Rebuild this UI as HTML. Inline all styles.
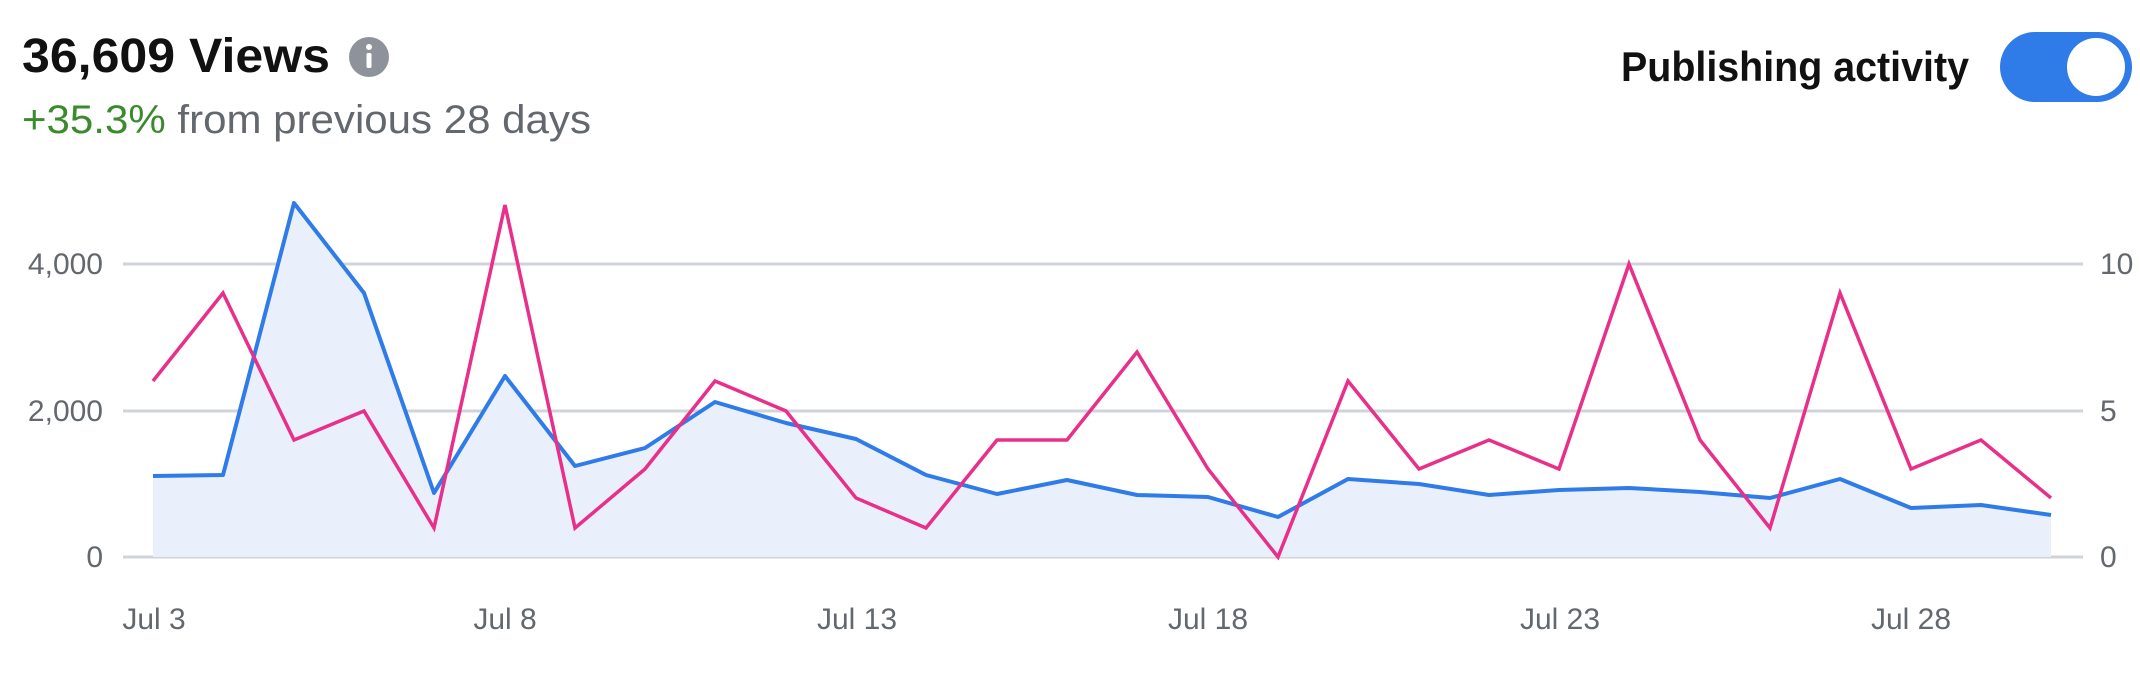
<!DOCTYPE html>
<html><head><meta charset="utf-8"><style>
html,body{margin:0;padding:0;background:#fff;}
svg{display:block;}
text{font-family:"Liberation Sans",sans-serif;}
</style></head><body>
<svg width="2140" height="677" viewBox="0 0 2140 677" xmlns="http://www.w3.org/2000/svg">
<text x="22" y="72" font-size="48" font-weight="bold" fill="#111" textLength="308" lengthAdjust="spacingAndGlyphs">36,609 Views</text>
<circle cx="369" cy="57" r="20" fill="#8e939b"/>
<circle cx="369" cy="47" r="3" fill="#fff"/>
<rect x="366.5" y="53" width="5" height="15" rx="1.5" fill="#fff"/>
<text x="22" y="133" font-size="40" textLength="569" lengthAdjust="spacingAndGlyphs"><tspan fill="#3b8a2e">+35.3%</tspan><tspan fill="#63676e"> from previous 28 days</tspan></text>
<text x="1621" y="81" font-size="42" font-weight="bold" fill="#111" textLength="348" lengthAdjust="spacingAndGlyphs">Publishing activity</text>
<rect x="2000" y="32" width="132" height="70" rx="35" fill="#2f7ce8"/>
<circle cx="2096" cy="67" r="29" fill="#fff"/>
<g stroke="#d0d3da" stroke-width="3">
<line x1="123" y1="264" x2="2083" y2="264"/>
<line x1="123" y1="411" x2="2083" y2="411"/>
<line x1="123" y1="557" x2="2083" y2="557"/>
</g>
<g font-size="30" fill="#63676e" text-anchor="end">
<text x="103" y="274">4,000</text>
<text x="103" y="421">2,000</text>
<text x="103" y="567">0</text>
</g>
<g font-size="30" fill="#63676e">
<text x="2100" y="274">10</text>
<text x="2100" y="421">5</text>
<text x="2100" y="567">0</text>
</g>
<g font-size="30" fill="#63676e" text-anchor="middle">
<text x="154" y="629">Jul 3</text>
<text x="505" y="629">Jul 8</text>
<text x="857" y="629">Jul 13</text>
<text x="1208" y="629">Jul 18</text>
<text x="1560" y="629">Jul 23</text>
<text x="1911" y="629">Jul 28</text>
</g>
<polygon fill="#e9f0fc" points="153,557 153,476 223,475 294,203 364,293 434,493 505,376 575,466 645,448 715,402 786,423 856,439 926,475 997,494 1067,480 1137,495 1208,497 1278,517 1348,479 1419,484 1489,495 1559,490 1629,488 1700,492 1770,498 1840,479 1911,508 1981,505 2051,515 2051,557"/>
<polyline fill="none" stroke="#2f7ce8" stroke-width="4" stroke-linejoin="round" points="153,476 223,475 294,203 364,293 434,493 505,376 575,466 645,448 715,402 786,423 856,439 926,475 997,494 1067,480 1137,495 1208,497 1278,517 1348,479 1419,484 1489,495 1559,490 1629,488 1700,492 1770,498 1840,479 1911,508 1981,505 2051,515"/>
<polyline fill="none" stroke="#e8308a" stroke-width="3.5" stroke-linejoin="miter" points="153,381 223,293 294,440 364,411 434,528 505,205 575,528 645,469 715,381 786,411 856,498 926,528 997,440 1067,440 1137,352 1208,469 1278,557 1348,381 1419,469 1489,440 1559,469 1629,264 1700,440 1770,528 1840,293 1911,469 1981,440 2051,498"/>
</svg>
</body></html>
